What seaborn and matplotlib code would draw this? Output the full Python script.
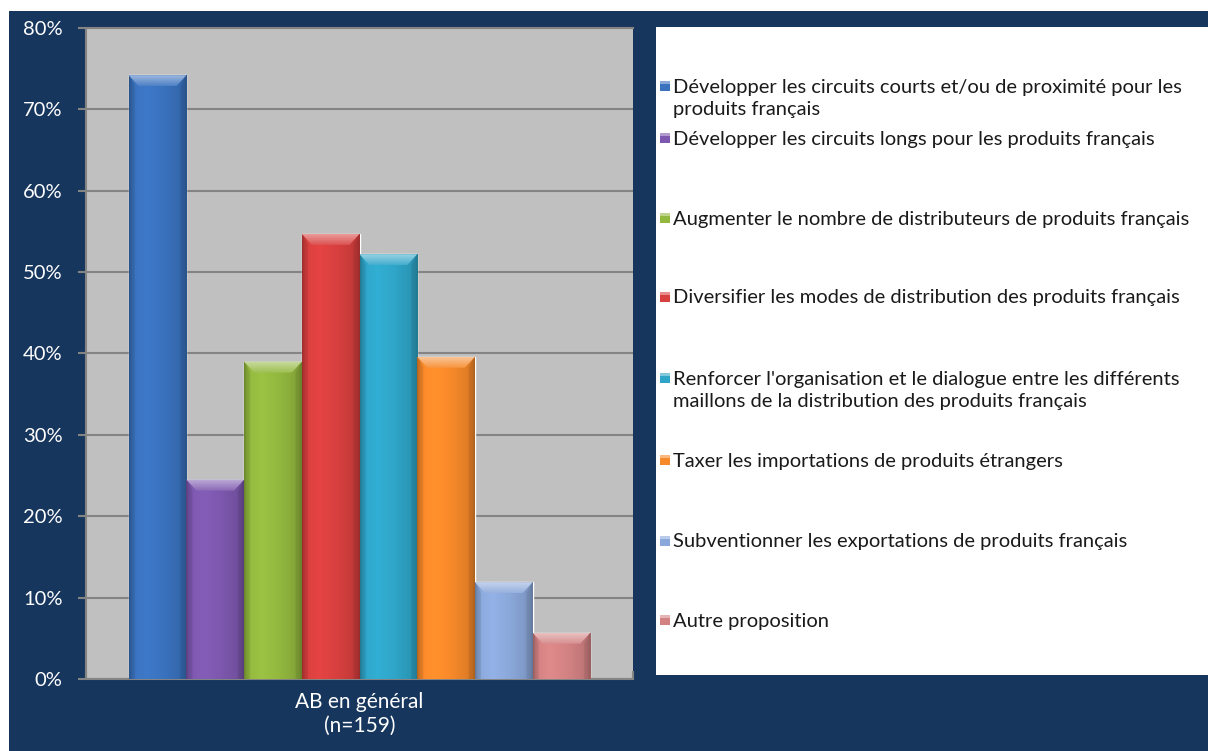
import numpy as np
import pandas as pd
import matplotlib
matplotlib.use("Agg")
import matplotlib.pyplot as plt
from matplotlib.patches import Rectangle, Polygon
from matplotlib.colors import to_rgb
import seaborn as sns

# ---- data -------------------------------------------------------------
groupes = ["AB en général\n(n=159)"]
propositions = [
    "Développer les circuits courts et/ou de proximité pour les\nproduits français",
    "Développer les circuits longs pour les produits français",
    "Augmenter le nombre de distributeurs de produits français",
    "Diversifier les modes de distribution des produits français",
    "Renforcer l'organisation et le dialogue entre les différents\nmaillons de la distribution des produits français",
    "Taxer les importations de produits étrangers",
    "Subventionner les exportations de produits français",
    "Autre proposition",
]
pourcentages = [74.2, 24.5, 39.0, 54.7, 52.2, 39.6, 11.9, 5.7]
couleurs = ["#3A72BE", "#7D58AE", "#93B83F", "#D8403F",
            "#2FA5C8", "#F6892A", "#8BA8DA", "#D38283"]
graduations = [0, 10, 20, 30, 40, 50, 60, 70, 80]

# ---- style ------------------------------------------------------------
sns.set_theme(style="white")
plt.rcParams["font.family"] = ["Lato", "DejaVu Sans"]

NAVY = "#17365D"
PLOT_BG = "#C0C0C0"
GRID = "#848484"
W, H = 1208, 751

fig = plt.figure(figsize=(W / 100, H / 100), dpi=100)
fig.patch.set_facecolor("white")

# background layer in pixel coordinates
bg = fig.add_axes([0, 0, 1, 1], zorder=-1)
bg.set_xlim(0, W)
bg.set_ylim(H, 0)
bg.axis("off")
bg.add_patch(Rectangle((9, 11), W - 9, H - 11, facecolor=NAVY, edgecolor="none"))
bg.add_patch(Rectangle((656, 27), W - 656, 675 - 27, facecolor="white", edgecolor="none"))

# ---- bar chart --------------------------------------------------------
ax = fig.add_axes([86 / W, (H - 679) / H, (633 - 86) / W, (679 - 28) / H])
df = pd.DataFrame({
    "groupe": groupes * len(propositions),
    "proposition": propositions,
    "pourcentage": pourcentages,
})
sns.barplot(data=df, x="groupe", y="pourcentage", hue="proposition",
            hue_order=propositions, palette=couleurs, saturation=1,
            width=0.844, dodge=True, legend=False, ax=ax, zorder=2)

ax.set_facecolor(PLOT_BG)
ax.set_xlim(-0.5, 0.5)
ax.set_ylim(0, 80)

def lighten(c, f):
    r = np.array(to_rgb(c))
    return tuple(r + (1 - r) * f)

# bevelled look for each bar: side shading + lighter top facet
profile_t = [0.0, 0.04, 0.12, 0.3, 0.6, 0.85, 0.95, 1.0]
profile_v = [0.78, 0.92, 1.02, 1.06, 1.0, 0.92, 0.85, 0.76]
t = np.linspace(0, 1, 120)
prof = np.interp(t, profile_t, profile_v)
px_x = 1.0 / (633 - 86)
px_y = 80.0 / (679 - 28)
for patch, col in zip(ax.patches, couleurs):
    x0, w = patch.get_x(), patch.get_width()
    h = patch.get_height()
    base = np.array(to_rgb(col))
    img = np.clip(base[None, None, :] * prof[None, :, None], 0, 1)
    im = ax.imshow(img, extent=[x0, x0 + w, 0, h], aspect="auto",
                   interpolation="bilinear", zorder=3)
    im.set_clip_path(patch)
    dx, dy = 10 * px_x, 11 * px_y
    top = Polygon([(x0, h), (x0 + w, h), (x0 + w - dx, h - dy), (x0 + dx, h - dy)],
                  closed=True, transform=ax.transData)
    vgrad = np.linspace(0, 1, 30)[:, None]
    c_top, c_bot = np.array(lighten(col, 0.5)), np.array(lighten(col, 0.1))
    img2 = c_top[None, None, :] * (1 - vgrad[..., None]) + c_bot[None, None, :] * vgrad[..., None]
    im2 = ax.imshow(np.clip(img2, 0, 1), extent=[x0, x0 + w, h - dy, h],
                    aspect="auto", interpolation="bilinear", zorder=4, origin="upper")
    im2.set_clip_path(top)
    # dark side facets
    for pts in ([(x0, h), (x0 + dx * 0.6, h - dy), (x0 + dx * 0.6, 0), (x0, 0)],
                [(x0 + w, h), (x0 + w - dx * 0.6, h - dy), (x0 + w - dx * 0.6, 0), (x0 + w, 0)]):
        ax.add_patch(Polygon(pts, closed=True, facecolor="black", alpha=0.07,
                             edgecolor="none", zorder=5))

ax.set_xlim(-0.5, 0.5)
ax.set_ylim(0, 80)

# axes, grid and ticks
ax.set_yticks(graduations)
ax.set_yticklabels([f"{g}%" for g in graduations])
ax.yaxis.grid(True, color=GRID, linewidth=1.5, zorder=1)
ax.set_axisbelow(True)
for side in ("left", "bottom", "top"):
    ax.spines[side].set_visible(True)
    ax.spines[side].set_color(GRID)
    ax.spines[side].set_linewidth(1.5)
ax.spines["right"].set_visible(False)
ax.tick_params(axis="y", colors=GRID, labelcolor="white", labelsize=14.5,
               length=6, width=1.5, pad=11, left=True)
ax.tick_params(axis="x", labelcolor="white", labelsize=15, length=0, pad=9)
ax.set_xticks([-0.5, 0.5], minor=True)
ax.tick_params(axis="x", which="minor", direction="in", length=6,
               width=1.5, colors=GRID, bottom=True)
ax.set_xlabel("")
ax.set_ylabel("")
for lab in ax.get_xticklabels():
    lab.set_linespacing(1.25)
    lab.set_ha("center")

# ---- legend -----------------------------------------------------------
rows_y = [86, 138, 218, 297, 378, 460, 541, 620]
for label, col, y in zip(propositions, couleurs, rows_y):
    bg.add_patch(Rectangle((660, y - 5), 10, 10, facecolor=col,
                           edgecolor="none", linewidth=0))
    bg.add_patch(Rectangle((660, y - 5), 10, 3, facecolor=lighten(col, 0.4),
                           edgecolor="none"))
    bg.text(673, y - 7.5, label, fontsize=14.5, color="#1A1A1A",
            va="top", ha="left", linespacing=1.38)

fig.savefig("out.png", dpi=100, facecolor=fig.get_facecolor())
